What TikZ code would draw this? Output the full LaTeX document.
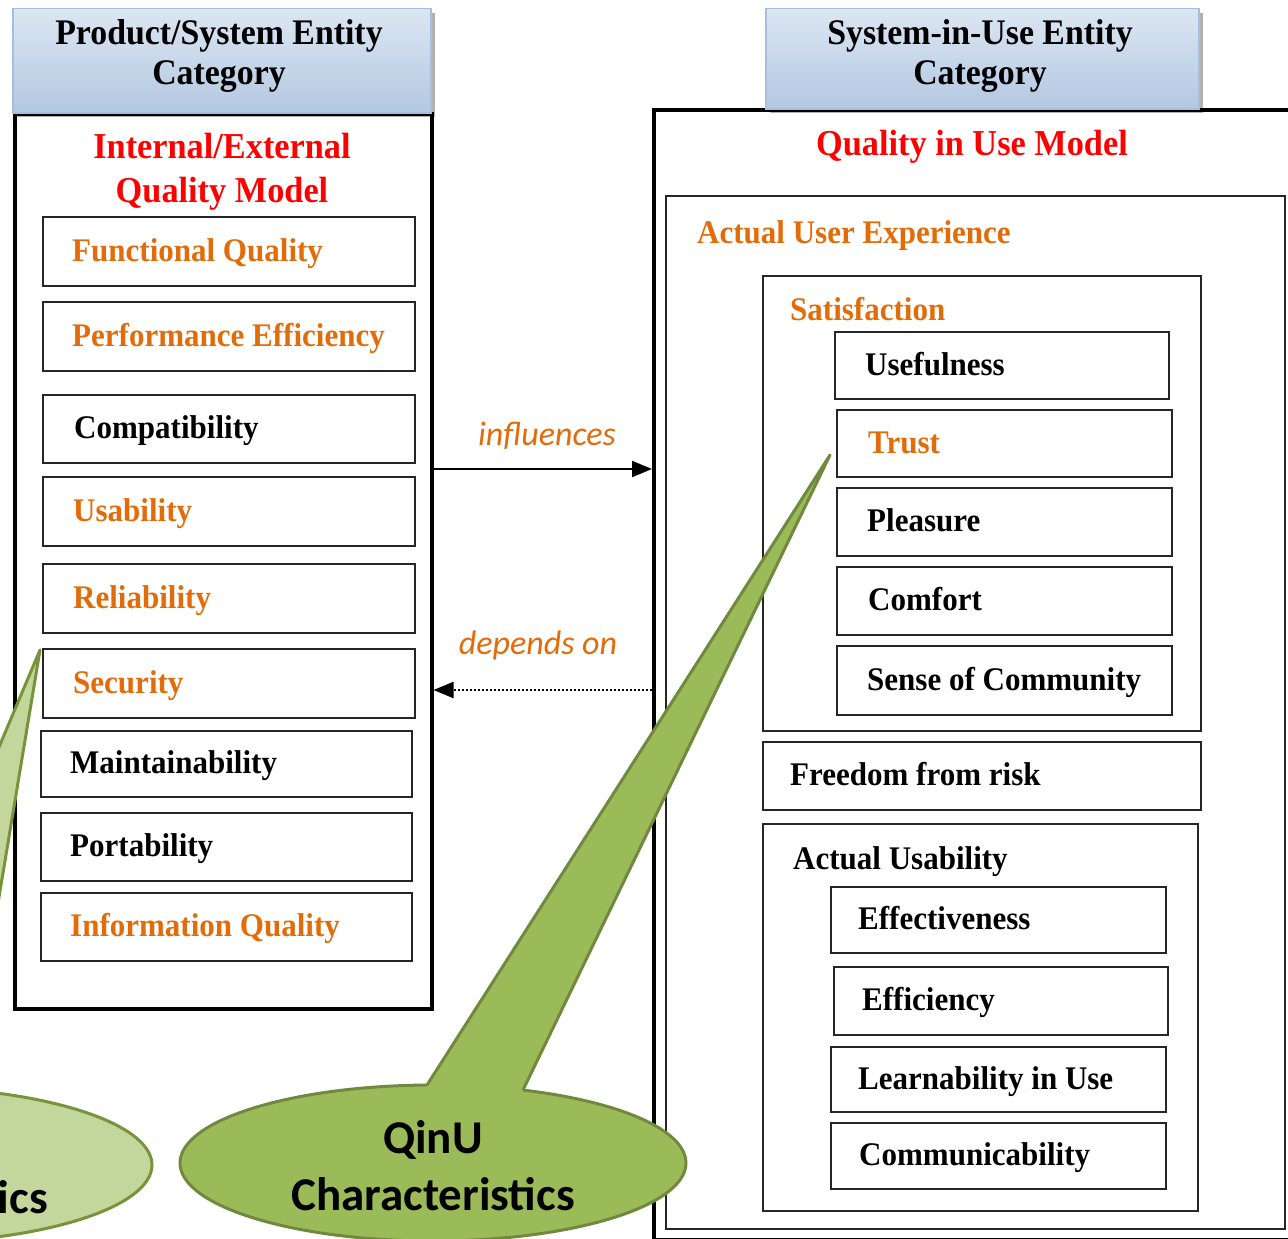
\documentclass[tikz,border=0pt]{standalone}
\usepackage{fontspec}
\setmainfont[FakeStretch=0.94]{Liberation Serif}
\newfontfamily\qcalib{Carlito}
\usetikzlibrary{shapes.geometric,arrows.meta,shadows}
\definecolor{qorange}{HTML}{E36C0A}
\definecolor{qred}{HTML}{FF0000}
\definecolor{hdrtop}{HTML}{DCE6F2}
\definecolor{hdrbot}{HTML}{B3C8E2}
\definecolor{hdrline}{HTML}{A7BFDE}
\definecolor{greenA}{HTML}{9BBB59}
\definecolor{greenAline}{HTML}{71893F}
\definecolor{greenB}{HTML}{C3D69B}
\definecolor{greenBline}{HTML}{77933C}
\newcommand\qitemfont{\fontsize{33}{38}\selectfont\bfseries}
\newcommand\qhdrfont{\fontsize{36}{40}\selectfont\bfseries}
\newcommand\qtitlefont{\fontsize{36.5}{44}\selectfont\bfseries}
\newcommand\qlblfont{\fontsize{34}{40}\selectfont\qcalib\itshape}
\newcommand\qcalfont{\fontsize{47}{57}\selectfont\qcalib\bfseries}
\tikzset{
  itembox/.style={draw=black!85, line width=2pt, rectangle, anchor=north west, inner sep=0pt},
  itemtext/.style={anchor=base west, inner sep=0pt, font=\qitemfont},
  outerbox/.style={draw=black, line width=3.5pt, rectangle, anchor=north west, inner sep=0pt},
  hdrbox/.style={rectangle, anchor=north west, top color=hdrtop, bottom color=hdrbot, draw=hdrline, line width=1.5pt, inner sep=0pt,
    drop shadow={shadow xshift=4pt, shadow yshift=-4pt, fill=black, opacity=0.3}},
  hdrtext/.style={align=center, font=\qhdrfont, inner sep=0pt},
  titletext/.style={align=center, font=\qtitlefont, text=qred, inner sep=0pt},
  lbltext/.style={font=\qlblfont, text=qorange, inner sep=0pt},
  arr/.style={-{Triangle[length=20pt,width=16pt]}, line width=2pt},
  callA/.style={ellipse, fill=greenA, draw=greenAline, line width=3pt, inner sep=0pt, minimum width=506pt, minimum height=156pt},
  callB/.style={ellipse, fill=greenB, draw=greenBline, line width=3pt, inner sep=0pt, minimum width=506pt, minimum height=156pt},
  caltext/.style={align=center, font=\qcalfont, inner sep=0pt},
}
% name, x1, y1, x2, y2, text x, colour, text
\newcommand\qbox[8]{%
  \node[itembox, minimum width={(#4-#2)*1pt}, minimum height={(#5-#3)*1pt}] (#1) at (#2,#3) {};
  \node[itemtext, text=#7] (#1t) at ([xshift={(#6-#2)*1pt}, yshift=-9.5pt]#1.west) {#8};}
% name, x1, y1, x2, y2
\newcommand\qframe[5]{%
  \node[itembox, minimum width={(#4-#2)*1pt}, minimum height={(#5-#3)*1pt}] (#1) at (#2,#3) {};}
\begin{document}
\begin{tikzpicture}[x=1pt,y=-1pt]
\useasboundingbox (0,0) rectangle (1288,1239);
\fill[white] (0,0) rectangle (1288,1239);

% outer boxes
\node[outerbox, minimum width=417pt, minimum height=895pt] (lbox) at (13,112) {};
\node[outerbox, minimum width=644pt, minimum height=1130pt] (rbox) at (652,108) {};

% right containers
\qframe{aue}{665}{195}{1284}{1228}
\qframe{sat}{762}{275}{1200}{730}
\qframe{ausab}{762}{823}{1197}{1210}
\node[itemtext, text=qorange] (auet) at (697,243) {Actual User Experience};
\node[itemtext, text=qorange] (satt) at (790,320) {Satisfaction};
\node[itemtext] (ausabt) at (793,869) {Actual Usability};

% left items
\qbox{fq}{42}{216}{414}{285}{72}{qorange}{Functional Quality}
\qbox{pe}{42}{301}{414}{370}{72}{qorange}{Performance Efficiency}
\qbox{comp}{42}{394}{414}{462}{74}{black}{Compatibility}
\qbox{usab}{42}{476}{414}{545}{73}{qorange}{Usability}
\qbox{rel}{42}{563}{414}{632}{73}{qorange}{Reliability}
\qbox{sec}{42}{648}{414}{717}{73}{qorange}{Security}
\qbox{mnt}{40}{730}{411}{796}{70}{black}{Maintainability}
\qbox{port}{40}{812}{411}{880}{70}{black}{Portability}
\qbox{iq}{40}{892}{411}{960}{70}{qorange}{Information Quality}

% right items
\qbox{usef}{834}{331}{1168}{398}{865}{black}{Usefulness}
\qbox{trust}{836}{409}{1171}{476}{868}{qorange}{Trust}
\qbox{pleas}{836}{487}{1171}{555}{867}{black}{Pleasure}
\qbox{comf}{836}{566}{1171}{634}{868}{black}{Comfort}
\qbox{soc}{836}{645}{1171}{714}{867}{black}{Sense of Community}
\qbox{free}{762}{741}{1200}{809}{790}{black}{Freedom from risk}
\qbox{eff}{830}{886}{1165}{952}{858}{black}{Effectiveness}
\qbox{effi}{833}{966}{1167}{1034}{862}{black}{Efficiency}
\qbox{learn}{830}{1046}{1165}{1111}{858}{black}{Learnability in Use}
\qbox{comm}{830}{1122}{1165}{1188}{859}{black}{Communicability}

% headers
\node[hdrbox, minimum width=418pt, minimum height=104pt] (lhdr) at (12,8) {};
\node[hdrtext] (lhdrt) at (219,56) {Product/System Entity\\Category};
\node[hdrbox, minimum width=433pt, minimum height=100pt] (rhdr) at (765,8) {};
\node[hdrtext] (rhdrt) at (980,56) {System-in-Use Entity\\Category};

% titles
\node[titletext] (ltitle) at (222,172) {Internal/External\\Quality Model};
\node[titletext] (rtitle) at (972,147) {Quality in Use Model};

% connectors
\coordinate (infy) at (0,469);
\coordinate (depy) at (0,690);
\draw[arr] (lbox.east |- infy) -- (rbox.west |- infy);
\draw[arr, dotted] (rbox.west |- depy) -- (lbox.east |- depy);
\node[lbltext] (inft) at (547,436) {influences};
\node[lbltext] (dept) at (538,645) {depends on};

% left callout (mostly outside the picture)
\node[callB] (lcall) at (-101,1165) {};
\node[caltext] (lcallt) at (-94,1197) {Characteristics};
\coordinate (ltip) at (40,650);
\coordinate (lb1) at (-145,1088);
\coordinate (lb2) at (-33,1090);
\fill[greenB] (ltip) -- (lb1) -- ++(0,15) -- ++(112,2) -- (lb2) -- cycle;
\draw[greenBline, line width=3pt, line join=round] (lb1) -- (ltip) -- (lb2);

% QinU callout
\node[callA] (qcall) at (433,1163) {};
\node[caltext] (qcallt) at (433,1166) {QinU\\Characteristics};
\coordinate (qtip) at (830,455);
\coordinate (qb1) at (427,1085);
\coordinate (qb2) at (523,1090);
\fill[greenA] (qtip) -- (qb1) -- ++(0,15) -- ++(96,5) -- (qb2) -- cycle;
\draw[greenAline, line width=3pt, line join=round] (qb1) -- (qtip) -- (qb2);
\end{tikzpicture}
\end{document}
